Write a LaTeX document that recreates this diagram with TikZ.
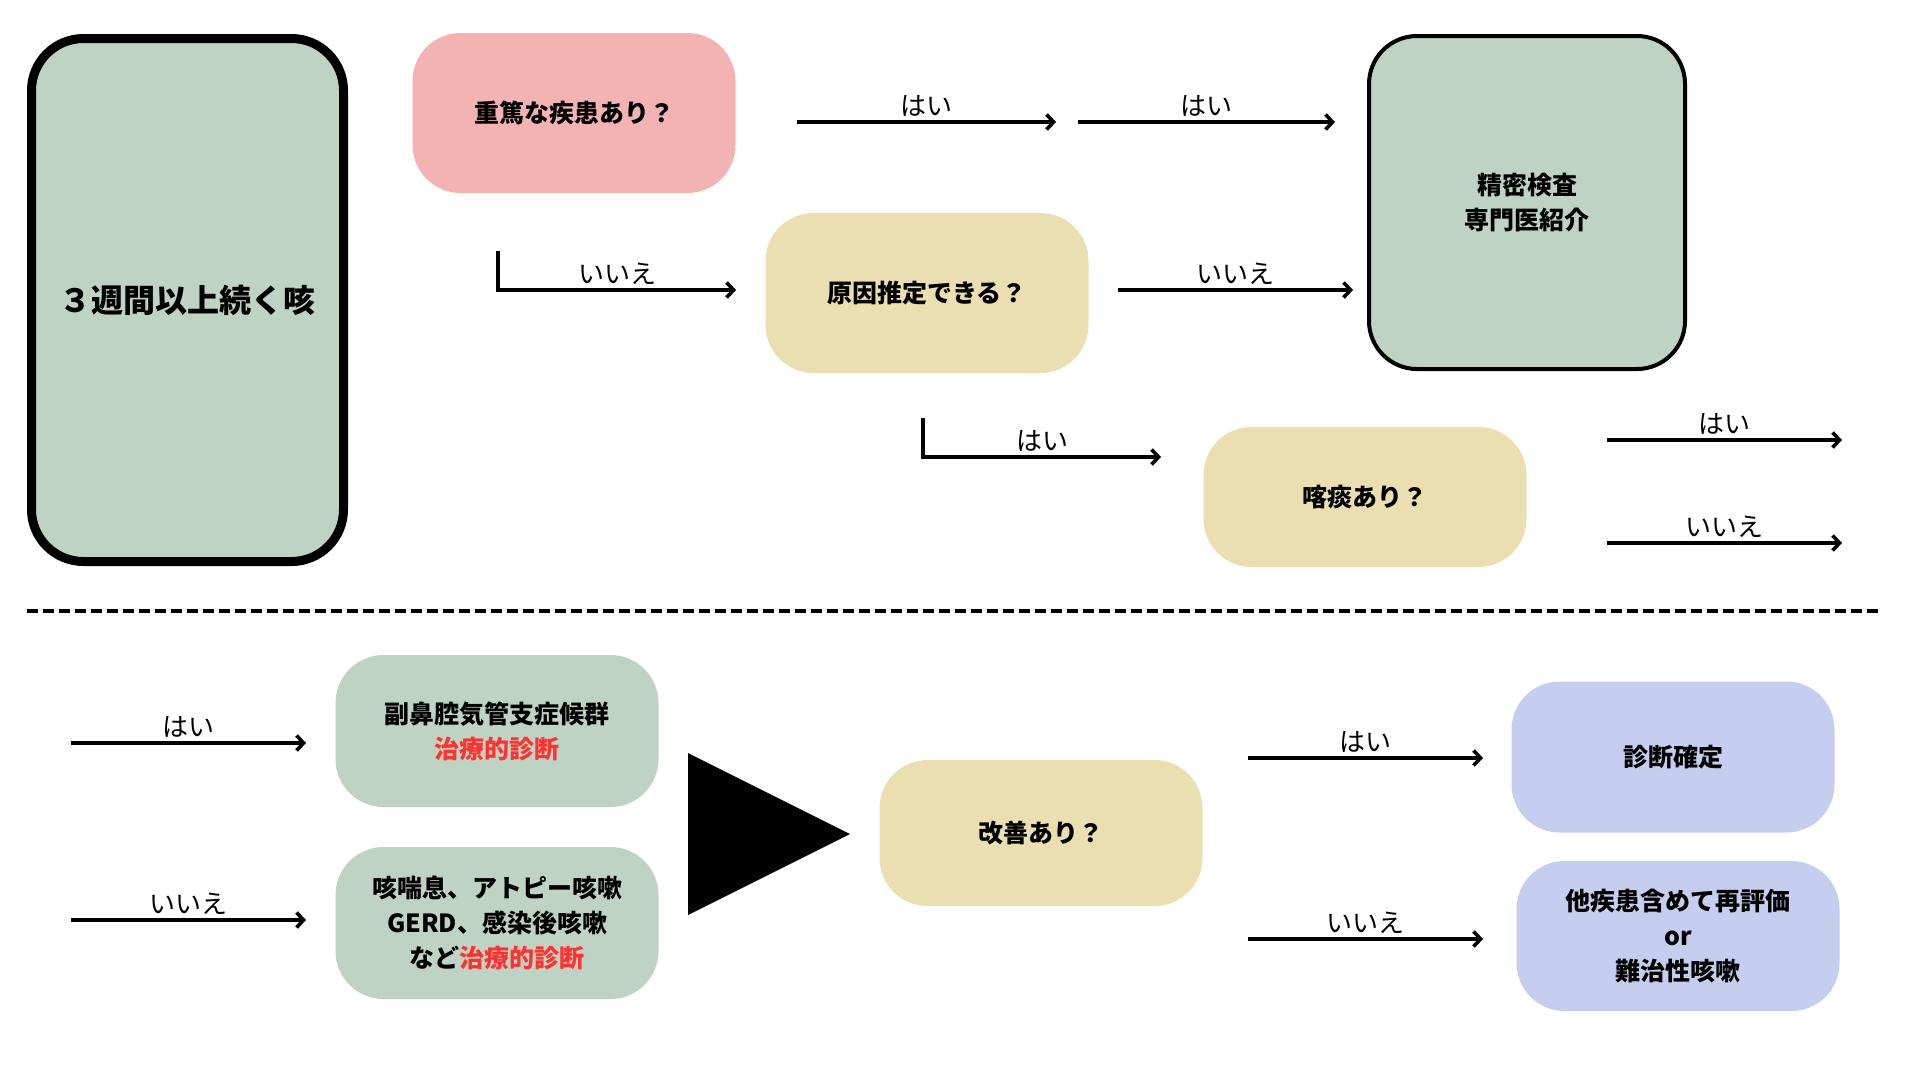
\documentclass[tikz,border=0pt]{standalone}
\usepackage{fontspec}
\newfontfamily\jp{Noto Sans CJK JP}
\usetikzlibrary{arrows.meta, positioning}
\definecolor{boxgreen}{HTML}{BED3C3}
\definecolor{boxpink}{HTML}{F4B3B3}
\definecolor{boxyellow}{HTML}{EBDFB1}
\definecolor{boxblue}{HTML}{C6CEF0}
\definecolor{diagred}{HTML}{FF3131}

\begin{document}
\begin{tikzpicture}[
        x=1pt,y=-1pt,>={Straight Barb[length=7pt,width=15pt]},
        line width=3.6pt,
        box/.style={rounded corners=48pt, minimum width=323pt, minimum height=152pt,
          align=center, inner sep=0pt, font=\jp\bfseries\fontsize{25}{35}\selectfont},
        lbl/.style={above, inner sep=4pt, font=\jp\fontsize{26}{30}\selectfont},
        ]
        \useasboundingbox (0,0) rectangle (1920,1080);

        % upper half
        \node[box,fill=boxgreen,draw,line width=9pt,rounded corners=52pt,
          minimum width=312pt,minimum height=523pt,font=\jp\bfseries\fontsize{32}{38}\selectfont]
                                              (cough)   at (187.5,300) {３週間以上続く咳};
        \node[box,fill=boxpink,minimum height=160pt]   (severe)  at (574,113) {重篤な疾患あり？};
        \node[box,fill=boxyellow,minimum height=160pt] (cause)   at (927,293) {原因推定できる？};
        \node[box,fill=boxgreen,draw,line width=4pt,minimum width=316pt,minimum height=333pt]
                                              (refer)   at (1527,202.5) {精密検査\\専門医紹介};
        \node[box,fill=boxyellow,minimum height=140pt] (sputum)  at (1365,497) {喀痰あり？};

        \coordinate (s1) at (797,122);   \coordinate (e1) at (1056,122);
        \coordinate (s2) at (1078,122);  \coordinate (e2) at (1335,122);
        \coordinate (s3) at (498,251);   \coordinate (e3) at (736,290);
        \coordinate (s4) at (1118,290);  \coordinate (e4) at (1353,290);
        \coordinate (s5) at (923,418);   \coordinate (e5) at (1161,457);
        \coordinate (s6) at (1607,440);  \coordinate (e6) at (1842,440);
        \coordinate (s7) at (1607,543);  \coordinate (e7) at (1842,543);

        \path[->] (s1) edge node[lbl] {はい} (e1)
                  (s2) edge node[lbl] {はい} (e2)
                  (s4) edge node[lbl] {いいえ} (e4)
                  (s6) edge node[lbl] {はい} (e6)
                  (s7) edge node[lbl] {いいえ} (e7);
        \draw[->] (s3) |- node[lbl,pos=0.75] {いいえ} (e3);
        \draw[->] (s5) |- node[lbl,pos=0.75] {はい} (e5);

        \draw[line width=3.5pt,dash pattern=on 11pt off 5pt] (27,611) -- (1878,611);

        % lower half
        \node[box,fill=boxgreen]                    (sinus)   at (497,731) {副鼻腔気管支症候群\\\textcolor{diagred}{治療的診断}};
        \node[box,fill=boxgreen]                    (asthma)  at (497,923) {咳喘息、アトピー咳嗽\\GERD、感染後咳嗽\\など\textcolor{diagred}{治療的診断}};
        \node[box,fill=boxyellow,minimum height=146pt] (better) at (1041,833) {改善あり？};
        \node[box,fill=boxblue,minimum height=151pt]  (confirm) at (1673,757) {診断確定};
        \node[box,fill=boxblue,minimum height=150pt]  (again)   at (1678,936) {他疾患含めて再評価\\or\\難治性咳嗽};

        \fill (688,753) -- (688,915) -- (850,834) -- cycle;

        \coordinate (s8) at (71,743);     \coordinate (e8) at (306,743);
        \coordinate (s9) at (71,920);     \coordinate (e9) at (306,920);
        \coordinate (s10) at (1248,758);  \coordinate (e10) at (1483,758);
        \coordinate (s11) at (1248,939);  \coordinate (e11) at (1483,939);

        \path[->] (s8) edge node[lbl] {はい} (e8)
                  (s9) edge node[lbl] {いいえ} (e9)
                  (s10) edge node[lbl] {はい} (e10)
                  (s11) edge node[lbl] {いいえ} (e11);
      \end{tikzpicture}
\end{document}
